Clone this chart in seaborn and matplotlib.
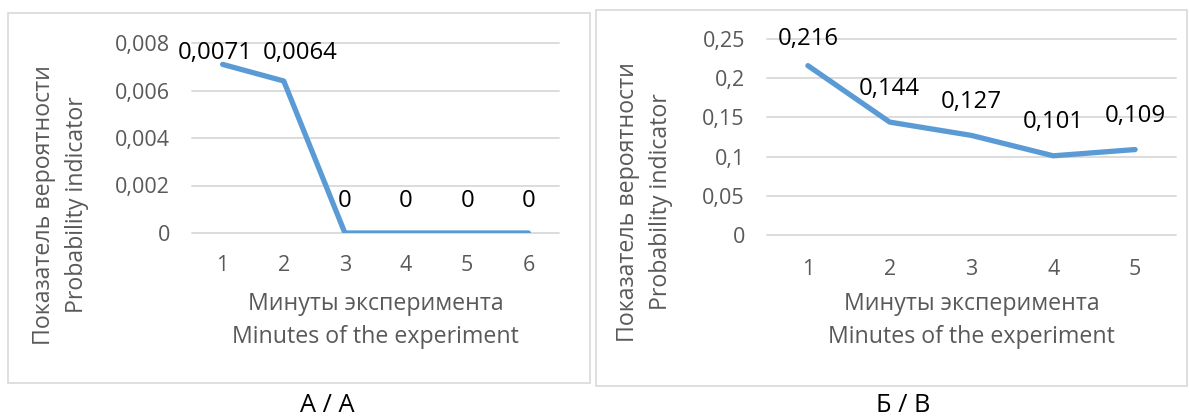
import matplotlib
matplotlib.use("Agg")
import matplotlib.pyplot as plt
import seaborn as sns
import pandas as pd
from matplotlib.patches import Rectangle

sns.set_theme(style="white")
plt.rcParams['font.family'] = ['Open Sans', 'DejaVu Sans']

# ---- data ----
minutes_a = [1, 2, 3, 4, 5, 6]
values_a = [0.0071, 0.0064, 0, 0, 0, 0]
labels_a = ["0,0071", "0,0064", "0", "0", "0", "0"]
yticks_a = [0, 0.002, 0.004, 0.006, 0.008]
yticklabels_a = ["0", "0,002", "0,004", "0,006", "0,008"]

minutes_b = [1, 2, 3, 4, 5]
values_b = [0.216, 0.144, 0.127, 0.101, 0.109]
labels_b = ["0,216", "0,144", "0,127", "0,101", "0,109"]
yticks_b = [0, 0.05, 0.1, 0.15, 0.2, 0.25]
yticklabels_b = ["0", "0,05", "0,1", "0,15", "0,2", "0,25"]

xlabel_ru = "Минуты эксперимента"
xlabel_en = "Minutes of the experiment"
ylabel_ru = "Показатель вероятности"
ylabel_en = "Probability indicator"
captions = ["А / A", "Б / B"]

W, H = 1189, 417
fig = plt.figure(figsize=(W / 100, H / 100), dpi=100)

LINE = "#5B9BD5"
GRID = "#D9D9D9"
TXT = "#595959"
FS = 15.5        # tick labels
FS_LAB = 17.3    # data labels
FS_AX = 16.7     # axis titles
FS_CAP = 18.3    # captions


def px_ax(l, r, t, b):
    return fig.add_axes([l / W, 1 - b / H, (r - l) / W, (b - t) / H])


def frame(l, r, t, b):
    fig.patches.append(Rectangle((l / W, 1 - b / H), (r - l) / W, (b - t) / H,
                                 transform=fig.transFigure, fill=False,
                                 edgecolor=GRID, linewidth=1.2))


def style(ax, xs, yt, ytl, ymax, xpad):
    ax.set_xlim(0.5, len(xs) + 0.5)
    ax.set_ylim(0, ymax)
    ax.set_yticks(yt)
    ax.set_yticklabels(ytl, color=TXT, fontsize=FS)
    ax.set_xticks(xs)
    ax.set_xticklabels([str(x) for x in xs], color=TXT, fontsize=FS)
    ax.tick_params(axis='both', length=0)
    ax.tick_params(axis='y', pad=16)
    ax.tick_params(axis='x', pad=xpad)
    for s in ax.spines.values():
        s.set_visible(False)
    ax.grid(False)
    for v in yt:
        ax.axhline(v, color=GRID, linewidth=1.3, zorder=0, clip_on=False)
    ax.set_xlabel("")
    ax.set_ylabel("")
    ax.set_facecolor("none")


# Panel A
frame(8, 590, 13, 383)
axA = px_ax(192, 559, 43, 233)
dfA = pd.DataFrame({"m": minutes_a, "v": values_a})
sns.lineplot(data=dfA, x="m", y="v", ax=axA, color=LINE, linewidth=3.8,
             solid_capstyle="round", solid_joinstyle="round")
style(axA, minutes_a, yticks_a, yticklabels_a, 0.008, 16)
offsA = [(-5, 8), (12, 20), (0, 23), (0, 23), (0, 23), (0, 23)]
for x, v, lab, (dx, dy) in zip(minutes_a, values_a, labels_a, offsA):
    axA.annotate(lab, (x, v), xytext=(dx, dy), textcoords="offset points",
                 ha="center", va="center", fontsize=FS_LAB, color="black",
                 annotation_clip=False)

# Panel B
frame(596, 1187, 10, 386)
axB = px_ax(767, 1176, 39, 235)
dfB = pd.DataFrame({"m": minutes_b, "v": values_b})
sns.lineplot(data=dfB, x="m", y="v", ax=axB, color=LINE, linewidth=3.8,
             solid_capstyle="round", solid_joinstyle="round")
style(axB, minutes_b, yticks_b, yticklabels_b, 0.25, 17)
offsB = [19.5, 24, 24, 24, 24]
for x, v, lab, dy in zip(minutes_b, values_b, labels_b, offsB):
    axB.annotate(lab, (x, v), xytext=(0, dy), textcoords="offset points",
                 ha="center", va="center", fontsize=FS_LAB, color="black",
                 annotation_clip=False)

# axis titles
for cx in (375.5, 971.5):
    fig.text(cx / W, 1 - 304 / H, xlabel_ru, ha="center", va="center",
             fontsize=FS_AX, color=TXT)
    fig.text(cx / W, 1 - 337 / H, xlabel_en, ha="center", va="center",
             fontsize=FS_AX, color=TXT)
for x1, x2, cy in [(44, 77, 205), (628, 661, 202)]:
    fig.text(x1 / W, 1 - cy / H, ylabel_ru, rotation=90,
             ha="center", va="center", fontsize=FS_AX, color=TXT)
    fig.text(x2 / W, 1 - cy / H, ylabel_en, rotation=90,
             ha="center", va="center", fontsize=FS_AX, color=TXT)

# captions
fig.text(327 / W, 1 - 405 / H, captions[0], ha="center", va="center",
         fontsize=FS_CAP, color="black")
fig.text(903 / W, 1 - 405 / H, captions[1], ha="center", va="center",
         fontsize=FS_CAP, color="black")

fig.savefig("out.png", dpi=100, facecolor="white")
